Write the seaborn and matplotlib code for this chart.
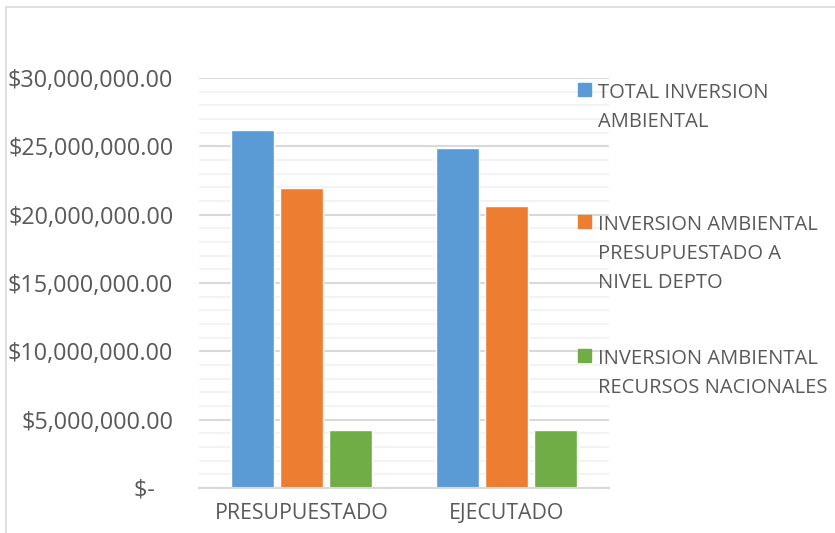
import pandas as pd
import matplotlib.pyplot as plt
import seaborn as sns
from matplotlib.patches import Rectangle
from matplotlib.ticker import FuncFormatter, MultipleLocator

# data
categories = ['PRESUPUESTADO', 'EJECUTADO']
series = ['TOTAL INVERSION\nAMBIENTAL',
          'INVERSION AMBIENTAL\nPRESUPUESTADO A\nNIVEL DEPTO',
          'INVERSION AMBIENTAL\nRECURSOS NACIONALES']
total_inversion = [26200000, 24880000]
inversion_depto = [21970000, 20640000]
inversion_nacional = [4230000, 4230000]
colors = ['#5B9BD5', '#ED7D31', '#70AD47']

df = pd.DataFrame({
    'categoria': categories * 3,
    'serie': [series[0]] * 2 + [series[1]] * 2 + [series[2]] * 2,
    'valor': total_inversion + inversion_depto + inversion_nacional,
})

sns.set_theme(style='white')
plt.rcParams['font.family'] = ['Open Sans', 'DejaVu Sans']
text_color = '#595959'

fig = plt.figure(figsize=(8.35, 5.33), dpi=100)
ax = fig.add_axes([199 / 835, 1 - 488 / 533, 410 / 835, 410 / 533])

sns.barplot(data=df, x='categoria', y='valor', hue='serie', order=categories,
            hue_order=series, palette=colors, width=0.717, gap=0.13,
            saturation=1, legend=False, ax=ax)

ax.set_xlim(-0.5, 1.5)
ax.set_ylim(0, 30000000)
ax.yaxis.set_major_locator(MultipleLocator(5000000))
ax.yaxis.set_minor_locator(MultipleLocator(1000000))


def money(v, pos):
    if v == 0:
        return '$-   '
    return f'${v:,.2f}'


ax.yaxis.set_major_formatter(FuncFormatter(money))
ax.grid(axis='y', which='major', color='#d9d9d9', linewidth=1.5)
ax.grid(axis='y', which='minor', color='#f2f2f2', linewidth=1.3)
ax.set_axisbelow(True)
for s in ['top', 'right', 'left']:
    ax.spines[s].set_visible(False)
ax.spines['bottom'].set_color('#d9d9d9')
ax.spines['bottom'].set_linewidth(1.5)
ax.tick_params(axis='both', which='both', length=0, colors=text_color)
ax.tick_params(axis='y', pad=18.5, labelsize=16.8)
ax.tick_params(axis='x', pad=11, labelsize=15.3)
ax.set_xlabel('')
ax.set_ylabel('')

# legend laid out like the spreadsheet one
legend_tops = [89, 221, 355]
for lab, col, top in zip(series, colors, legend_tops):
    fig.patches.append(Rectangle((578 / 835, 1 - (top + 7) / 533), 13 / 835, 13 / 533,
                                 transform=fig.transFigure, color=col))
    fig.text(598 / 835, 1 - (top - 6) / 533, lab, ha='left', va='top',
             fontsize=14.5, color=text_color, linespacing=1.6)

# chart border
fig.patches.append(Rectangle((6 / 835, -0.05), 1.1, 1 - 7 / 533 + 0.05,
                             transform=fig.transFigure, fill=False,
                             edgecolor='#d9d9d9', linewidth=1.2))

fig.savefig('out.png', dpi=100)
